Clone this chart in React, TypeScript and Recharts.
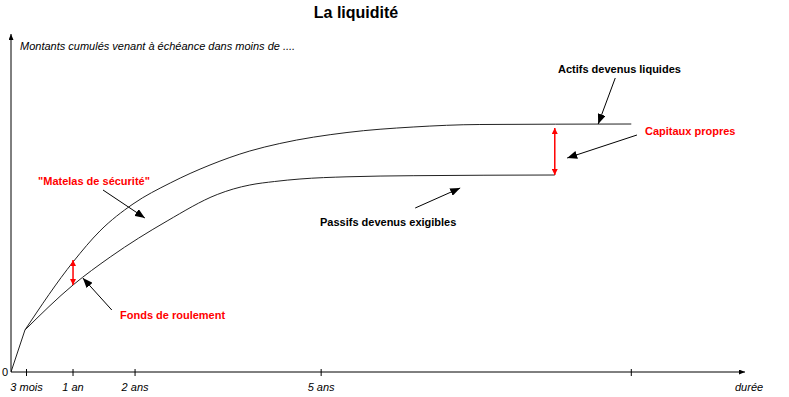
import { LineChart, Line, XAxis, YAxis, ReferenceLine } from 'recharts'

// durée in months, montants cumulés (arbitrary units)
// shared start of both curves (up to the knee just before 3 mois)
const commonMonths = [0, 2.7]
const commonValues = [0, 42]

const actifsMonths = [2.7, 12, 17.2, 23.6, 30.8, 38.5, 46.2, 52, 65, 77.8, 90.7, 120]
const actifsValues = [42, 110, 141, 168, 189, 207, 221, 228.5, 239.5, 245, 247.5, 248]

const passifsMonths = [2.7, 12, 19.2, 30.2, 39.9, 43, 46.2, 51, 55.9, 65, 77.8, 105.2]
const passifsValues = [42, 87, 115, 151, 177.5, 183, 187, 190.5, 193, 195.2, 196.3, 197]

const tickMonths = [3, 12, 24, 60, 120]
const tickLabels = ['3 mois', '1 an', '2 ans', '5 ans', '']

// red double arrows (gap between the two curves)
const gapMonths = [12, 105.2]
const gapTop = [112, 244]
const gapBottom = [87, 197]

// black pointer arrows: from label to curve
const pointerFromMonths = [116.9, 121.1, 17.8, 78.2, 19.5]
const pointerFromValues = [294, 237, 182, 164, 62]
const pointerToMonths = [113.6, 107.6, 25.9, 86.9, 13.9]
const pointerToValues = [248, 214, 154, 184, 94]

const common = commonMonths.map((m, i) => ({ m, v: commonValues[i] }))
const actifs = actifsMonths.map((m, i) => ({ m, v: actifsValues[i] }))
const passifs = passifsMonths.map((m, i) => ({ m, v: passifsValues[i] }))

const FONT = '"Liberation Sans", Arial, sans-serif'

function DureeTick(props: any) {
  const { x, y, payload } = props
  const idx = tickMonths.indexOf(payload.value)
  return (
    <g>
      <line x1={x} x2={x} y1={y - 3} y2={y + 4} stroke="#000" />
      <text x={x} y={y + 19} textAnchor="middle" fontSize={11} fontStyle="italic" fill="#000" fontFamily={FONT}>
        {tickLabels[idx]}
      </text>
    </g>
  )
}

export default function App() {
  return (
    <div style={{ position: 'absolute', left: 0, top: 0, width: 789, height: 397, background: '#fff' }}>
      <LineChart width={789} height={397} margin={{ top: 34, right: 44, bottom: 0, left: 0 }} style={{ fontFamily: FONT }}>
        <defs>
          <marker id="blackHead" viewBox="0 0 10 8" refX="10" refY="4" markerWidth="10" markerHeight="8" markerUnits="userSpaceOnUse" orient="auto-start-reverse">
            <path d="M0,0 L10,4 L0,8 z" fill="#000" />
          </marker>
          <marker id="redHead" viewBox="0 0 6 6" refX="6" refY="3" markerWidth="6" markerHeight="6" markerUnits="userSpaceOnUse" orient="auto-start-reverse">
            <path d="M0,0 L6,3 L0,6 z" fill="#ff0000" />
          </marker>
          <marker id="axisHead" viewBox="0 0 6 5" refX="6" refY="2.5" markerWidth="6" markerHeight="5" markerUnits="userSpaceOnUse" orient="auto-start-reverse">
            <path d="M0,0 L6,2.5 L0,5 z" fill="#000" />
          </marker>
        </defs>
        <XAxis
          dataKey="m"
          type="number"
          domain={[0, 142]}
          ticks={tickMonths}
          height={25}
          tickSize={0}
          tickMargin={0}
          tick={<DureeTick />}
          axisLine={{ stroke: '#000', strokeWidth: 1, markerEnd: 'url(#axisHead)' }}
          allowDataOverflow
        />
        <YAxis
          type="number"
          domain={[0, 338]}
          ticks={[0]}
          width={11}
          tickSize={0}
          tickMargin={3}
          tickLine={false}
          tick={{ fontSize: 11, fill: '#000' }}
          axisLine={{ stroke: '#000', strokeWidth: 1, markerStart: 'url(#axisHead)' }}
          allowDataOverflow
        />
        <Line data={common} dataKey="v" type="linear" stroke="#222" strokeWidth={1} dot={false} isAnimationActive={false} />
        <Line data={actifs} dataKey="v" type="monotone" stroke="#222" strokeWidth={1} dot={false} isAnimationActive={false} />
        <Line data={passifs} dataKey="v" type="monotone" stroke="#222" strokeWidth={1} dot={false} isAnimationActive={false} />
        {gapMonths.map((m, i) => (
          <ReferenceLine
            key={'gap' + i}
            segment={[{ x: m, y: gapTop[i] }, { x: m, y: gapBottom[i] }]}
            stroke="#ff0000"
            strokeWidth={1.5}
            markerStart="url(#redHead)"
            markerEnd="url(#redHead)"
          />
        ))}
        {pointerFromMonths.map((m, i) => (
          <ReferenceLine
            key={'ptr' + i}
            segment={[{ x: m, y: pointerFromValues[i] }, { x: pointerToMonths[i], y: pointerToValues[i] }]}
            stroke="#000"
            strokeWidth={1}
            markerEnd="url(#blackHead)"
          />
        ))}
        <text x={356} y={18} textAnchor="middle" fontSize={16} fontWeight="bold" fill="#000" fontFamily={FONT}>La liquidité</text>
        <text x={20} y={50} fontSize={11} fontStyle="italic" fill="#000" fontFamily={FONT}>Montants cumulés venant à échéance dans moins de ....</text>
        <text x={735} y={391} fontSize={11} fontStyle="italic" fill="#000" fontFamily={FONT}>durée</text>
        <text x={558} y={73} fontSize={11} fontWeight="bold" fill="#000" fontFamily={FONT}>Actifs devenus liquides</text>
        <text x={645} y={135} fontSize={11} fontWeight="bold" fill="#ff0000" fontFamily={FONT}>Capitaux propres</text>
        <text x={38} y={185} fontSize={11} fontWeight="bold" fill="#ff0000" fontFamily={FONT}>"Matelas de sécurité"</text>
        <text x={320} y={226} fontSize={11} fontWeight="bold" fill="#000" fontFamily={FONT}>Passifs devenus exigibles</text>
        <text x={120} y={319} fontSize={11} fontWeight="bold" fill="#ff0000" fontFamily={FONT}>Fonds de roulement</text>
      </LineChart>
    </div>
  )
}
